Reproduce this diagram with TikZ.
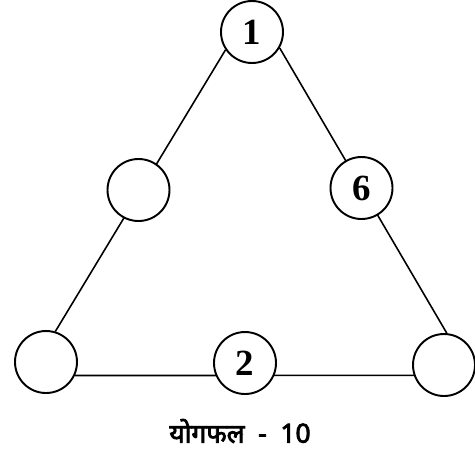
\documentclass[tikz,border=0pt]{standalone}
\usepackage{fontspec}
\newfontfamily\digitfont{Liberation Serif}
\newfontfamily\hindifont[Script=Devanagari, FakeBold=3]{Noto Sans}
\begin{document}
\begin{tikzpicture}[
    num/.style={circle, draw, line width=1.1pt, fill=white, minimum size=12.4mm, inner sep=0pt,
                font=\digitfont\bfseries\fontsize{21}{25}\selectfont},
    side/.style={line width=0.9pt},
    total/.style={font=\hindifont\fontsize{15}{18}\selectfont}]

  \useasboundingbox (0,0) rectangle (9.5,-9);

  % corners
  \foreach \name/\x/\y/\val in {top/5.04/-0.64/1, bl/0.92/-7.24/{}, br/8.88/-7.3/{}}
    \node[num] (\name) at (\x,\y) {\val};

  \draw[side] (top.214) -- (bl.73);
  \draw[side] (top.330) -- (br.85);
  \draw[side] (bl.335) -- (br.199);

  % middle of each side
  \foreach \name/\x/\y/\val in {lm/2.77/-3.8/{}, rm/7.23/-3.76/6, bm/4.9/-7.26/2}
    \node[num] (\name) at (\x,\y) {\val};

  \node[total] (sum) at (4.8,-8.62) {योगफल~~-~~10};
\end{tikzpicture}
\end{document}
